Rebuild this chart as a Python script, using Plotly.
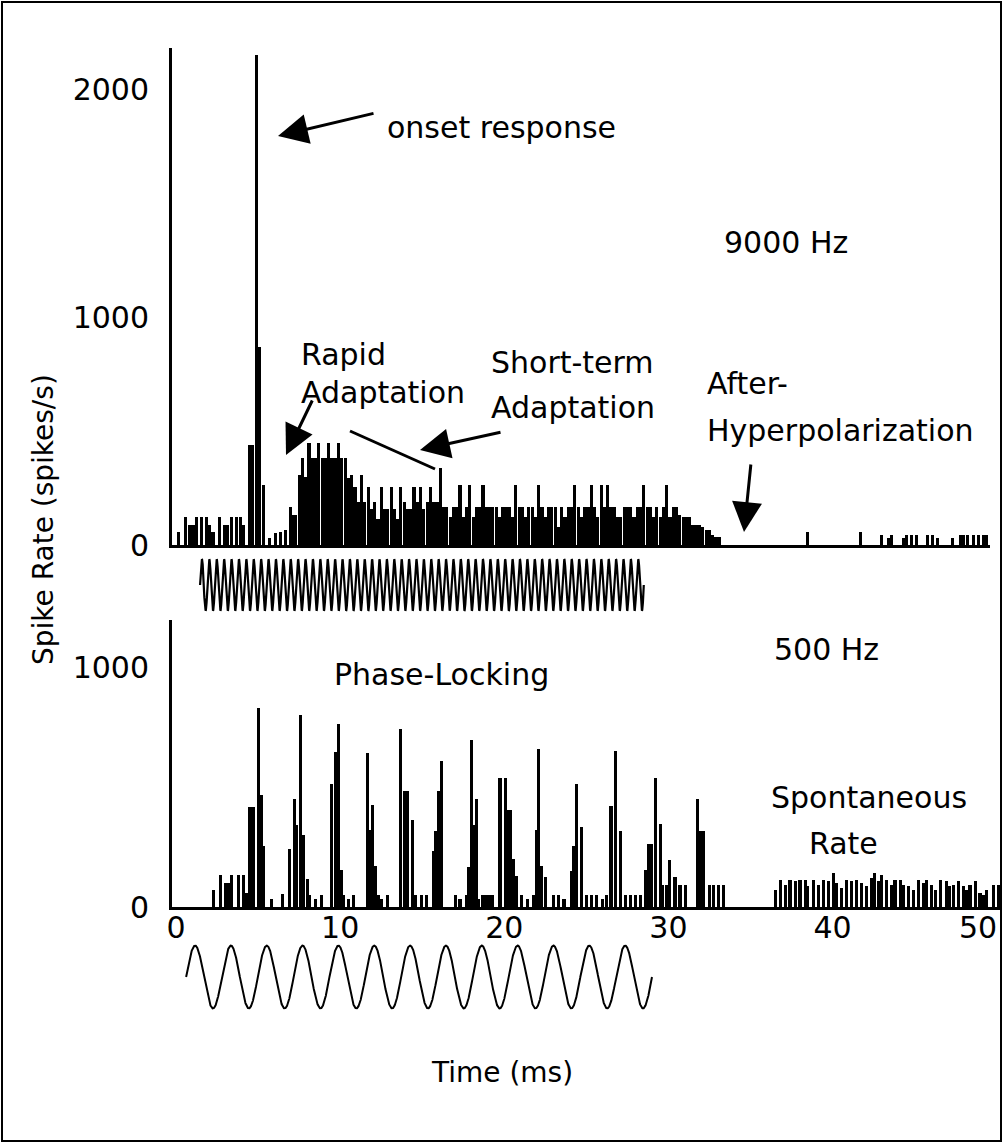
import numpy as np
import plotly.graph_objects as go

# ---------------- data ----------------
BIN_MS = 0.2          # histogram bin width of the dense part (ms)
BAR_W = 0.19          # drawn bar width (ms)

# 9000 Hz panel: early bars and onset (time ms, rate spikes/s)
hf_early_t = [0.15, 0.55, 0.85, 1.05, 1.25, 1.55, 1.85, 2.05, 2.25, 2.65, 2.95, 3.15,
              3.4, 3.7, 3.9, 4.1, 4.45, 4.65, 4.9, 5.1, 5.3, 5.7, 6.05, 6.35, 6.65, 6.95]
hf_early_r = [58, 121, 88, 88, 121, 121, 121, 88, 58, 121, 88, 88,
              121, 121, 121, 88, 440, 440, 2150, 870, 263, 30, 52, 58, 66, 168]

# 9000 Hz panel: consecutive bins starting at 7.1 ms
hf_dense_start = 7.1
hf_dense_r = [131, 131, 307, 380, 300, 447, 380, 380, 447, 380,
              380, 447, 380, 380, 447, 380, 380, 293, 307, 254,
              189, 307, 189, 254, 159, 189, 115, 254, 159, 159,
              254, 159, 115, 254, 189, 159, 159, 254, 189, 254,
              159, 189, 254, 189, 189, 336, 168, 168, 124, 168,
              168, 263, 124, 168, 263, 124, 168, 168, 263, 168,
              168, 168, 168, 124, 168, 168, 168, 124, 263, 168,
              168, 124, 168, 168, 124, 263, 168, 124, 168, 168,
              168, 80, 168, 124, 168, 168, 263, 168, 124, 168,
              168, 263, 168, 124, 263, 168, 263, 168, 168, 124,
              124, 168, 168, 168, 124, 168, 168, 263, 168, 168,
              124, 168, 124, 168, 263, 124, 168, 168, 130, 124,
              124, 124, 88, 88, 88, 80, 66, 66, 44, 37,
              37]

# 9000 Hz panel: late sparse bars after the tone
hf_late_t = [38.5, 41.7, 43.0, 43.4, 43.6, 44.3, 44.5, 44.8, 45.1, 45.8, 46.1, 46.4, 47.3,
             47.8, 48.0, 48.2, 48.6, 48.9, 49.2, 49.4]
hf_late_r = [55, 55, 44, 30, 44, 30, 44, 44, 44, 44, 44, 30, 30, 44, 44, 44, 44, 44, 44, 44]

# 500 Hz panel (time ms, rate spikes/s)
lf_t = [2.3, 2.7, 3.0, 3.2, 3.4, 3.8, 4.1, 4.3, 4.5, 4.7, 5.0, 5.18, 5.34, 5.8, 6.5, 6.9, 7.2,
        7.35, 7.6, 7.76, 8.0, 8.15, 8.47, 8.84, 9.49, 9.69, 9.9, 10.05, 10.2, 10.5, 10.8, 11.66,
        11.82, 11.96, 12.13, 12.3, 12.5, 12.9, 13.7, 13.95, 14.1, 14.42, 14.6, 14.97, 15.28, 15.68,
        15.84, 15.98, 16.15, 17.0, 17.3, 17.71, 17.84, 17.98, 18.12, 18.28, 18.42, 18.7, 18.9,
        19.1, 19.3, 19.74, 20.05, 20.22, 20.38, 20.55, 20.76, 21.07, 21.4, 21.77, 21.94, 22.1,
        22.28, 22.49, 23.0, 23.3, 23.64, 24.11, 24.25, 24.42, 24.72, 25.03, 25.33, 25.64, 26.0,
        26.25, 26.5, 26.8, 27.06, 27.36, 27.67, 27.97, 28.28, 28.58, 28.78, 28.99, 29.19, 29.5,
        29.66, 29.9, 30.04, 30.4, 30.71, 31.02, 31.77, 31.97, 32.12, 32.5, 32.74, 33.05, 33.35,
        36.5, 36.81, 37.11, 37.41, 37.72, 38.02, 38.33, 38.48, 38.84, 39.14, 39.45, 39.75, 40.06,
        40.26, 40.56, 40.87, 41.17, 41.48, 41.78, 42.09, 42.39, 42.55, 42.8, 43.0, 43.3, 43.61,
        43.81, 44.12, 44.32, 44.63, 44.93, 45.23, 45.54, 45.74, 46.05, 46.25, 46.56, 46.96, 47.12,
        47.37, 47.67, 47.98, 48.18, 48.38, 48.69, 48.99, 49.2, 49.4, 49.8, 50.1]
lf_r = [72, 135, 102, 102, 135, 135, 135, 60, 418, 418, 830, 467, 255, 35, 56, 244, 453,
        342, 802, 300, 116, 49, 35, 52, 516, 648, 767, 153, 52, 35, 52, 646,
        321, 425, 171, 52, 35, 52, 746, 485, 485, 363, 52, 52, 52, 234,
        317, 485, 609, 52, 35, 52, 167, 697, 342, 453, 35, 49, 49,
        49, 49, 540, 540, 404, 404, 202, 130, 49, 35, 49, 321, 662,
        171, 125, 49, 49, 35, 149, 254, 516, 335, 49, 49, 49, 35,
        49, 423, 651, 317, 49, 49, 49, 49, 153, 262, 262, 540, 349,
        91, 91, 198, 126, 91, 91, 450, 318, 318, 91, 91, 91, 91,
        72, 114, 93, 114, 107, 114, 114, 86, 114, 93, 114, 107, 142,
        100, 79, 114, 107, 114, 100, 86, 121, 142, 107, 135, 114, 93,
        114, 114, 93, 86, 72, 114, 100, 114, 93, 72, 114, 107, 86,
        93, 107, 86, 72, 93, 107, 59, 52, 72, 93, 93]

# stimulus sketches (start ms, end ms, drawn cycles)
stim_hf = (1.46, 28.5, 60)
stim_lf = (0.61, 29.0, 13)

x_ticks = [0, 10, 20, 30, 40]
x_last_tick = 50          # drawn right-aligned at its value so it stays inside the page
hf_yticks = [0, 1000, 2000]
lf_yticks = [0, 1000]

# ---------------- layout helpers ----------------
W, H = 1003, 1143
ML, MR, MT, MB = 172, 3, 40, 40
PW = W - ML - MR
PH = H - MT - MB


def px(x):
    return (x - ML) / PW


def py(y):
    return (H - MB - y) / PH


FONT = "DejaVu Sans"
FS = 30
black = "#000000"

hf_t = list(hf_early_t) + [hf_dense_start + BIN_MS * i for i in range(len(hf_dense_r))] + list(hf_late_t)
hf_r = list(hf_early_r) + list(hf_dense_r) + list(hf_late_r)

fig = go.Figure()
fig.add_trace(go.Bar(x=hf_t, y=hf_r, width=BAR_W, marker=dict(color=black, line=dict(width=0)),
                     xaxis="x2", yaxis="y2", showlegend=False))
fig.add_trace(go.Bar(x=lf_t, y=lf_r, width=BAR_W, marker=dict(color=black, line=dict(width=0)),
                     xaxis="x", yaxis="y", showlegend=False))

for (s, e, c), xa, ya, lw in [(stim_hf, "x3", "y3", 2.2), (stim_lf, "x4", "y4", 2)]:
    t = np.linspace(s, e, 6000)
    fig.add_trace(go.Scatter(x=t, y=np.sin(2 * np.pi * c * (t - s) / (e - s)), mode="lines",
                             line=dict(color=black, width=lw),
                             xaxis=xa, yaxis=ya, showlegend=False, hoverinfo="skip"))

x_range = [-0.25, -0.25 + PW / 16.41]
top_right = 990
axis_common = dict(showline=True, linecolor=black, linewidth=3, ticks="", showgrid=False,
                   zeroline=False, automargin=False,
                   tickfont=dict(family=FONT, size=FS, color=black))
hidden = dict(visible=False, automargin=False)

fig.update_layout(
    width=W, height=H, autosize=False,
    margin=dict(l=ML, r=MR, t=MT, b=MB),
    paper_bgcolor="white", plot_bgcolor="white",
    bargap=0, barmode="overlay",
    xaxis=dict(domain=[0, 1], range=x_range, anchor="y", tickvals=x_ticks,
               ticklabelstandoff=-8, **axis_common),
    yaxis=dict(domain=[py(907), py(620)], range=[0, 1200], anchor="x", tickvals=lf_yticks,
               ticklabelstandoff=14, **axis_common),
    xaxis2=dict(domain=[0, px(top_right)], range=[x_range[0], x_range[0] + (top_right - ML) / 16.41],
                anchor="y2", showticklabels=False, **axis_common),
    yaxis2=dict(domain=[py(545), py(48)], range=[0, 2180], anchor="x2", tickvals=hf_yticks,
                ticklabelstandoff=14, **axis_common),
    xaxis3=dict(domain=[0, 1], range=x_range, anchor="y3", **hidden),
    yaxis3=dict(domain=[py(612), py(558)], range=[-1.05, 1.05], anchor="x3", **hidden),
    xaxis4=dict(domain=[0, 1], range=x_range, anchor="y4", **hidden),
    yaxis4=dict(domain=[py(1010), py(944)], range=[-1.05, 1.05], anchor="x4", **hidden),
)

anns = []


def text(t, x, y, xanchor="left", angle=0, size=FS):
    anns.append(dict(text=t, x=px(x), y=py(y), xref="paper", yref="paper", xanchor=xanchor,
                     yanchor="middle", showarrow=False, textangle=angle,
                     font=dict(family=FONT, size=size, color=black)))


def arrow(tip, tail):
    anns.append(dict(text="", x=px(tip[0]), y=py(tip[1]), xref="paper", yref="paper",
                     ax=tail[0] - tip[0], ay=tail[1] - tip[1], axref="pixel", ayref="pixel",
                     showarrow=True, arrowhead=2, arrowsize=2, arrowwidth=3, arrowcolor=black))


text("onset response", 385, 127)
text("9000 Hz", 722, 242)
text("Rapid", 299, 355)
text("Adaptation", 299, 392)
text("Short-term", 489, 362)
text("Adaptation", 489, 407)
text("After-", 705, 383)
text("Hyperpolarization", 705, 430)
text("500 Hz", 772, 650)
text("Phase-Locking", 332, 675)
text("Spontaneous", 769, 798)
text("Rate", 807, 843)
text("Time (ms)", 502, 1072, xanchor="center", size=28)
text("Spike Rate (spikes/s)", 43, 520, xanchor="center", angle=-90, size=28)

# last x tick label, right-aligned at its data value
anns.append(dict(text=str(x_last_tick), x=x_last_tick + 0.15, xref="x", y=py(907), yref="paper",
                 xanchor="right", yanchor="top", yshift=-1, showarrow=False,
                 font=dict(family=FONT, size=FS, color=black)))

arrow((278, 136), (375, 113))
arrow((286, 455), (313, 399))
arrow((420, 450), (502, 432))
arrow((744, 532), (751, 463))

fig.update_layout(annotations=anns)

fig.add_shape(type="line", xref="paper", yref="paper", x0=px(350), y0=py(431), x1=px(435), y1=py(469),
              line=dict(color=black, width=3))
fig.add_shape(type="rect", xref="paper", yref="paper", x0=px(2), y0=py(2), x1=px(1001), y1=py(1141),
              line=dict(color=black, width=2), fillcolor="rgba(0,0,0,0)", layer="above")

fig.write_html("out.html", config={"displayModeBar": False, "responsive": False},
               post_script="document.body.style.margin='0';document.body.style.overflow='hidden';")
